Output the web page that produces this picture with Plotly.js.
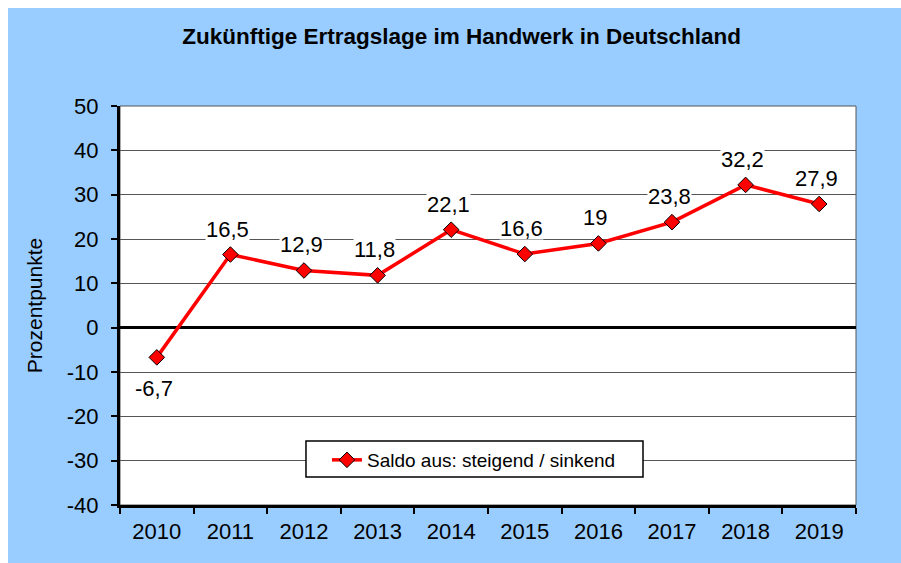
<!DOCTYPE html>
<html>
<head>
<meta charset="utf-8">
<script src="https://cdn.plot.ly/plotly-3.0.1.min.js"></script>
<style>
html,body{margin:0;padding:0;background:#ffffff;overflow:hidden;}
#chart{position:absolute;left:8px;top:8px;width:893px;height:555px;}
</style>
</head>
<body>
<div id="chart"></div>
<script>
const years = ["2010","2011","2012","2013","2014","2015","2016","2017","2018","2019"];
const saldo = [-6.7, 16.5, 12.9, 11.8, 22.1, 16.6, 19, 23.8, 32.2, 27.9];
const yTickVals = [-40, -30, -20, -10, 0, 10, 20, 30, 40, 50];
const seriesName = "Saldo aus: steigend / sinkend";
const chartTitle = "Zukünftige Ertragslage im Handwerk in Deutschland";
const yTitle = "Prozentpunkte";

const FONT = "Liberation Sans, Arial, sans-serif";
const fmt = v => String(v).replace(".", ",");

const trace = {
  x: years, y: saldo, type: "scatter", mode: "lines+markers", name: seriesName,
  line: {color: "#ff0000", width: 3.5},
  marker: {symbol: "diamond", size: 12, color: "#ff0000", line: {color: "#000000", width: 1}},
  hoverinfo: "skip"
};

const annotations = years.map((yr, i) => ({
  x: i, y: saldo[i], xref: "x", yref: "y", text: fmt(saldo[i]), showarrow: false,
  xshift: -3, yshift: saldo[i] < 0 ? -31 : 26, bgcolor: "#ffffff", borderpad: 0, height: 22,
  font: {family: FONT, size: 22, color: "#000000"}
}));

const layout = {
  width: 893, height: 555,
  paper_bgcolor: "#99ccff", plot_bgcolor: "#ffffff",
  margin: {l: 112, r: 45, t: 98, b: 58},
  font: {family: FONT, size: 22, color: "#000000"},
  title: {text: "<b>" + chartTitle + "</b>", xref: "container", x: 0.508, xanchor: "center",
          yref: "container", y: 0.9495, yanchor: "middle", font: {family: FONT, size: 22.5, color: "#000"}},
  xaxis: {type: "category", range: [-0.5, 9.5], tickson: "boundaries", ticks: "outside", ticklen: 6, tickwidth: 2, tickcolor: "#000",
          showline: true, linecolor: "#000", linewidth: 3, showgrid: false, zeroline: false,
          ticklabelstandoff: 5,
          tickangle: 0, tickfont: {family: FONT, size: 22}, fixedrange: true},
  yaxis: {range: [-40, 50], tickvals: yTickVals, ticktext: yTickVals.map(String),
          ticks: "outside", ticklen: 6, tickwidth: 2, tickcolor: "#000",
          showline: true, linecolor: "#000", linewidth: 3, showgrid: true, gridcolor: "#555555", gridwidth: 1,
          zeroline: true, zerolinecolor: "#000", zerolinewidth: 3,
          ticklabelstandoff: 8,
          title: {text: yTitle, standoff: 19, font: {family: FONT, size: 21}},
          tickfont: {family: FONT, size: 22}, fixedrange: true},
  showlegend: true,
  legend: {x: 0.2812, y: 0.1604, xanchor: "left", yanchor: "top", bgcolor: "rgba(0,0,0,0)",
           borderwidth: 0, font: {family: FONT, size: 19}},
  shapes: [
    {type: "rect", xref: "paper", yref: "paper", x0: 0, x1: 1, y0: 0, y1: 1,
     line: {color: "#555555", width: 1}, layer: "below"},
    {type: "rect", xref: "paper", yref: "paper", x0: 0.2527, x1: 0.7106, y0: 0.0702, y1: 0.1604,
     fillcolor: "#ffffff", line: {color: "#000000", width: 1.5}, layer: "above"}
  ],
  annotations: annotations
};

Plotly.newPlot("chart", [trace], layout, {displayModeBar: false, staticPlot: true});
</script>
</body>
</html>
